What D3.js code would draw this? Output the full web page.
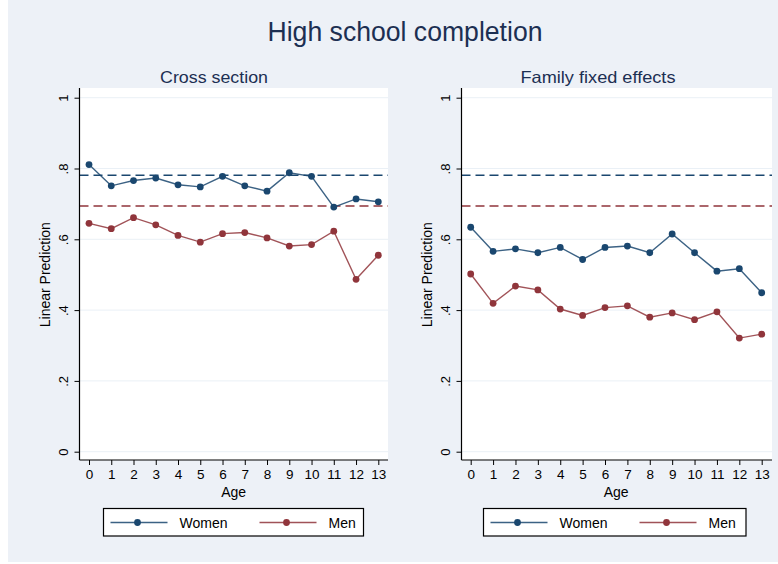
<!DOCTYPE html>
<html>
<head>
<meta charset="utf-8">
<script src="https://cdn.jsdelivr.net/npm/d3@7"></script>
<style>
  html, body { margin: 0; padding: 0; background: #ffffff; }
  svg { display: block; font-family: "Liberation Sans", Arial, sans-serif; }
</style>
</head>
<body>
<svg id="chart" width="778" height="564"></svg>
<script>
// ---- data ----
const ages = [0, 1, 2, 3, 4, 5, 6, 7, 8, 9, 10, 11, 12, 13];
const yTicks = [0, 0.2, 0.4, 0.6, 0.8, 1];
const yTickLabels = ["0", ".2", ".4", ".6", ".8", "1"];
const panelTitles = ["Cross section", "Family fixed effects"];
const seriesNames = ["Women", "Men"];
const womenCross = [0.811, 0.751, 0.766, 0.773, 0.754, 0.748, 0.778, 0.751, 0.736, 0.788, 0.778, 0.691, 0.714, 0.706];
const menCross   = [0.645, 0.630, 0.661, 0.641, 0.611, 0.592, 0.616, 0.619, 0.604, 0.581, 0.585, 0.623, 0.487, 0.555];
const womenFE    = [0.634, 0.566, 0.573, 0.562, 0.577, 0.543, 0.577, 0.581, 0.562, 0.615, 0.562, 0.510, 0.517, 0.449];
const menFE      = [0.502, 0.419, 0.468, 0.457, 0.403, 0.385, 0.407, 0.412, 0.380, 0.392, 0.373, 0.395, 0.321, 0.332];
const womenMean = 0.781;
const menMean = 0.694;

const colors = ["#1a476f", "#90353b"];

const svg = d3.select("#chart");

// background
svg.append("rect").attr("x", 8).attr("y", 0).attr("width", 770).attr("height", 562).attr("fill", "#edf1f7");

svg.append("text").attr("x", 405).attr("y", 41).attr("text-anchor", "middle")
  .attr("font-size", 27).attr("fill", "#1c2f52")
  .attr("textLength", 275).attr("lengthAdjust", "spacingAndGlyphs")
  .text("High school completion");

const panels = [
  { title: panelTitles[0], series: [womenCross, menCross], left: 79.5, right: 388, x0: 89, x13: 378.3, legX: 103.5, legW: 260, titleX: 214, titleW: 108 },
  { title: panelTitles[1], series: [womenFE, menFE], left: 461.5, right: 772, x0: 470.7, x13: 761.7, legX: 483.5, legW: 262.5, titleX: 598, titleW: 155 }
];

const plotTop = 88, plotBottom = 460;
const y = d3.scaleLinear().domain([0, 1]).range([451.7, 97.7]);

panels.forEach(p => {
  const g = svg.append("g");
  const x = d3.scaleLinear().domain([0, 13]).range([p.x0, p.x13]);

  g.append("text").attr("x", p.titleX).attr("y", 83).attr("text-anchor", "middle")
    .attr("font-size", 16.5).attr("fill", "#1c2f52")
    .attr("textLength", p.titleW).attr("lengthAdjust", "spacingAndGlyphs")
    .text(p.title);

  g.append("rect").attr("x", p.left).attr("y", plotTop).attr("width", p.right - p.left)
    .attr("height", plotBottom - plotTop).attr("fill", "#ffffff");

  // gridlines
  g.selectAll(".grid").data(yTicks).enter().append("line")
    .attr("x1", p.left).attr("x2", p.right)
    .attr("y1", d => y(d)).attr("y2", d => y(d))
    .attr("stroke", "#eaf0f6").attr("stroke-width", 1);

  // reference lines
  [womenMean, menMean].forEach((m, i) => {
    g.append("line").attr("x1", p.left).attr("x2", p.right)
      .attr("y1", y(m)).attr("y2", y(m))
      .attr("stroke", colors[i]).attr("stroke-width", 1.3).attr("stroke-dasharray", "9,5");
  });

  // y axis
  const yAxis = d3.axisLeft(y).tickValues(yTicks).tickFormat((d, i) => yTickLabels[i]).tickSize(5).tickPadding(3);
  const ya = g.append("g").attr("transform", `translate(${p.left},0)`).call(yAxis);
  ya.select(".domain").attr("d", `M0,${plotTop}V${plotBottom}`).attr("stroke", "#000").attr("stroke-width", 1.2);
  ya.selectAll(".tick line").attr("stroke", "#000");
  ya.selectAll(".tick text").attr("font-size", 13).attr("fill", "#000")
    .attr("x", null).attr("dy", null)
    .attr("transform", "translate(-11.5,0) rotate(-90)").attr("text-anchor", "middle");

  // x axis
  const xAxis = d3.axisBottom(x).tickValues(ages).tickFormat(d3.format("d")).tickSize(5).tickPadding(4);
  const xa = g.append("g").attr("transform", `translate(0,${plotBottom})`).call(xAxis);
  xa.select(".domain").attr("d", `M${p.left},0H${p.right}`).attr("stroke", "#000").attr("stroke-width", 1.2);
  xa.selectAll(".tick line").attr("stroke", "#000");
  xa.selectAll(".tick text").attr("font-size", 13.5).attr("fill", "#000");

  g.append("text").attr("x", (p.x0 + p.x13) / 2).attr("y", 497).attr("text-anchor", "middle")
    .attr("font-size", 14).attr("fill", "#000").text("Age");

  g.append("text").attr("text-anchor", "middle")
    .attr("font-size", 14).attr("fill", "#000").text("Linear Prediction")
    .attr("transform", `translate(${p.left - 29.5},${y(0.5)}) rotate(-90)`);

  // series
  const line = d3.line().x((d, i) => x(ages[i])).y(d => y(d));
  p.series.forEach((s, si) => {
    g.append("path").datum(s).attr("d", line).attr("fill", "none")
      .attr("stroke", colors[si]).attr("stroke-width", 1.4).attr("opacity", 0.85);
    g.selectAll(".pt" + si).data(s).enter().append("circle")
      .attr("cx", (d, i) => x(ages[i])).attr("cy", d => y(d)).attr("r", 3.4)
      .attr("fill", colors[si]);
  });

  // legend
  const lg = g.append("g").attr("transform", `translate(${p.legX},508.5)`);
  lg.append("rect").attr("width", p.legW).attr("height", 27.5).attr("fill", "#ffffff")
    .attr("stroke", "#000").attr("stroke-width", 1.2);
  seriesNames.forEach((name, i) => {
    const ox = i === 0 ? 7 : 156;
    lg.append("line").attr("x1", ox).attr("x2", ox + 57).attr("y1", 14).attr("y2", 14)
      .attr("stroke", colors[i]).attr("stroke-width", 1.4).attr("opacity", 0.85);
    lg.append("circle").attr("cx", ox + 27).attr("cy", 14).attr("r", 3.4).attr("fill", colors[i]);
    lg.append("text").attr("x", ox + 69).attr("y", 19).attr("font-size", 14).attr("fill", "#000").text(name);
  });
});
</script>
</body>
</html>
